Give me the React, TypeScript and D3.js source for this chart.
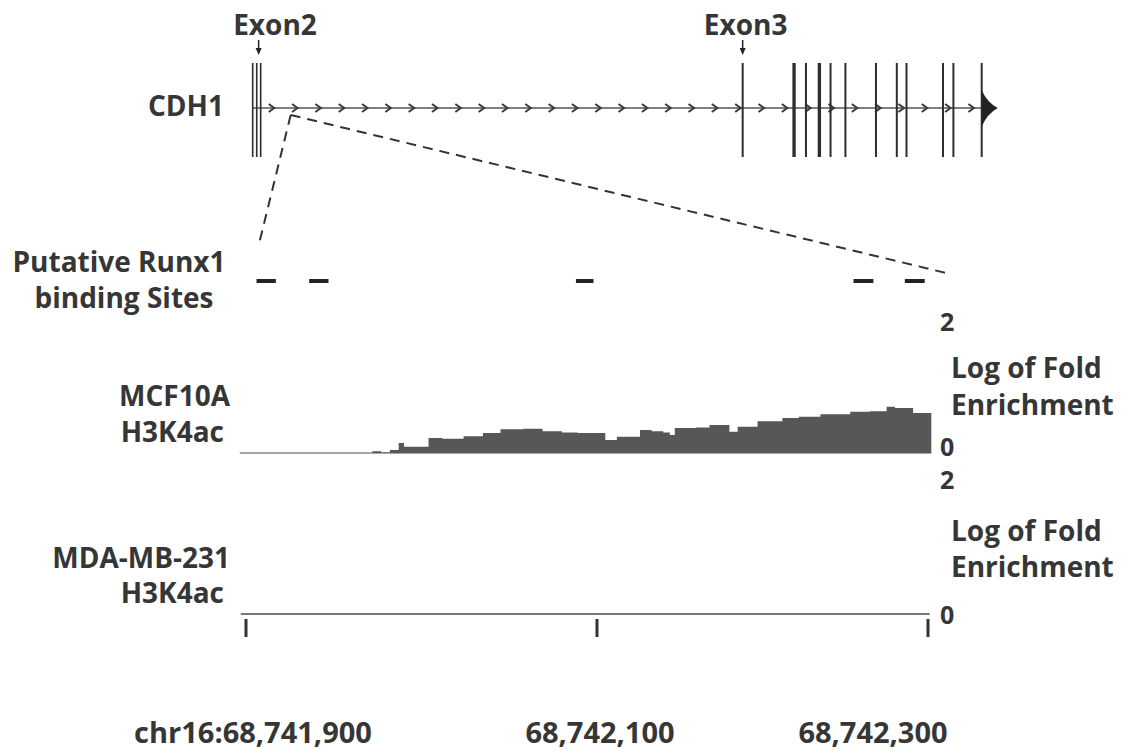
import React from "react";
import * as d3 from "d3";

// ---------- data ----------
// CDH1 gene model, positions in kb from the first drawn exon
const exonPos = [0, 0.54, 1.07, 65.8, 72.7, 74.3, 76.1, 77.6, 79.6, 83.7, 86.5, 87.8, 92.7, 94.1, 97.9];
const exonLen = [0.22, 0.22, 0.22, 0.27, 0.45, 0.27, 0.45, 0.27, 0.27, 0.27, 0.27, 0.27, 0.27, 0.27, 0.27];
const geneStart = 0;
const geneEnd = 97.9;
const exonLabels = ["Exon2", "Exon3"];
const exonLabelPos = [1.0, 65.8];
const zoomAnchorKb = 5.1;

// zoomed genomic window (chr16)
const tickPositions = [68741900, 68742100, 68742300];
const tickLabels = ["chr16:68,741,900", "68,742,100", "68,742,300"];
const zoomWindow = [68741907, 68742311];
const trackDomain = [68741897, 68742301];

// putative Runx1 binding sites [start, end]
const runxStart = [68741906, 68741936, 68742088, 68742255, 68742286];
const runxEnd = [68741917, 68741947, 68742098, 68742267, 68742298];

// MCF10A H3K4ac log fold enrichment (step signal)
const mcfPos = [68741972, 68741977, 68741982, 68741987, 68741990, 68742004, 68742012, 68742024, 68742035, 68742045,
  68742058, 68742069, 68742080, 68742089, 68742105, 68742112, 68742126, 68742133, 68742140, 68742144,
  68742147, 68742160, 68742168, 68742180, 68742185, 68742197, 68742212, 68742222, 68742235, 68742253,
  68742265, 68742275, 68742280, 68742291, 68742302];
const mcfVal = [0.03, 0.01, 0.05, 0.16, 0.10, 0.24, 0.23, 0.27, 0.32, 0.38,
  0.39, 0.35, 0.33, 0.32, 0.21, 0.26, 0.37, 0.35, 0.33, 0.29,
  0.40, 0.41, 0.45, 0.34, 0.42, 0.51, 0.56, 0.58, 0.62, 0.66,
  0.67, 0.74, 0.72, 0.64, 0.64];

// MDA-MB-231 H3K4ac (no enrichment)
const mdaPos = [68741897, 68742301];
const mdaVal = [0, 0];

const yTicks = [0, 2];
const yTickLabels = ["0", "2"];
const yAxisTitle = ["Log of Fold", "Enrichment"];

// ---------- layout ----------
const W = 1128, H = 755;
const FONT = "'Open Sans', 'DejaVu Sans', sans-serif";
const TXT = "#363636";

export default function App() {
  const gx = d3.scaleLinear().domain([geneStart, geneEnd]).range([252.7, 981.7]);
  const x = d3.scaleLinear().domain(tickPositions).range([246, 597, 928]);
  const geneY = 108;
  const exonTop = 63, exonBot = 157;

  const yMcf = d3.scaleLinear().domain([0, 2]).range([453, 328]);
  const yMda = d3.scaleLinear().domain([0, 2]).range([614, 479]);

  const mcfData = mcfPos.map((p, i) => ({ p, v: mcfVal[i] }));
  const mdaData = mdaPos.map((p, i) => ({ p, v: mdaVal[i] }));

  const mcfArea = d3.area<{ p: number; v: number }>()
    .x((d) => x(d.p)).y0(yMcf(0)).y1((d) => yMcf(d.v)).curve(d3.curveStepAfter);
  const mdaLine = d3.line<{ p: number; v: number }>()
    .x((d) => x(d.p)).y((d) => yMda(d.v));

  const chevrons = d3.range(2.76, 97.5, 3.132);
  const endX = gx(geneEnd);

  const tickLabelDx = [7, 3, -55];

  return (
    <svg width={W} height={H} style={{ position: "absolute", left: 0, top: 0, background: "#fff" }}
      fontFamily={FONT} fontWeight={700}>
      <rect width={W} height={H} fill="#fff" />

      {/* ----- gene track ----- */}
      <text x={224} y={116} textAnchor="end" fontSize={28} fill={TXT}>CDH1</text>
      <line x1={gx(geneStart)} x2={endX} y1={geneY} y2={geneY} stroke="#555" strokeWidth={1.6} />
      {chevrons.map((c, i) => (
        <polyline key={"c" + i}
          points={`${gx(c) - 4.5},${geneY - 4} ${gx(c) + 1},${geneY} ${gx(c) - 4.5},${geneY + 4}`}
          fill="none" stroke="#3a3a3a" strokeWidth={2} />
      ))}
      {exonPos.map((e, i) => (
        <line key={"e" + i} x1={gx(e)} x2={gx(e)} y1={exonTop} y2={exonBot}
          stroke="#2e2e2e" strokeWidth={Math.max(1.5, gx(exonLen[i]) - gx(0))} />
      ))}
      <path d={`M${endX},${geneY - 18} Q${endX + 5},${geneY - 6} ${endX + 16},${geneY} Q${endX + 5},${geneY + 6} ${endX},${geneY + 19} Z`}
        fill="#222" />
      {exonLabels.map((l, i) => {
        const ax = gx(exonLabelPos[i]) - (i === 0 ? 1.5 : 0);
        return (
          <g key={"l" + i}>
            <text x={i === 0 ? 275 : ax + 3} y={35} textAnchor="middle" fontSize={28} fill={TXT}>{l}</text>
            <line x1={ax} x2={ax} y1={40} y2={50} stroke="#222" strokeWidth={1.5} />
            <path d={`M${ax - 3},${48} L${ax + 3},${48} L${ax},${55} Z`} fill="#222" />
          </g>
        );
      })}

      {/* ----- zoom lines ----- */}
      <line x1={gx(zoomAnchorKb)} y1={115} x2={x(zoomWindow[0])} y2={247}
        stroke="#333" strokeWidth={2} strokeDasharray="10 7" />
      <line x1={gx(zoomAnchorKb)} y1={115} x2={x(zoomWindow[1])} y2={273}
        stroke="#333" strokeWidth={2} strokeDasharray="10 7" />

      {/* ----- Runx1 sites ----- */}
      <text x={119} y={272} textAnchor="middle" fontSize={28} fill={TXT}>Putative Runx1</text>
      <text x={124} y={308} textAnchor="middle" fontSize={28} fill={TXT}>binding Sites</text>
      {runxStart.map((s, i) => (
        <rect key={"r" + i} x={x(s)} width={x(runxEnd[i]) - x(s)} y={279} height={4} fill="#222" />
      ))}

      {/* ----- MCF10A track ----- */}
      <text x={230} y={406} textAnchor="end" fontSize={28} fill={TXT}>MCF10A</text>
      <text x={224} y={442} textAnchor="end" fontSize={28} fill={TXT}>H3K4ac</text>
      <line x1={x(trackDomain[0]) - 1} x2={x(mcfPos[mcfPos.length - 1])} y1={yMcf(0)} y2={yMcf(0)}
        stroke="#888" strokeWidth={1.6} />
      <path d={mcfArea(mcfData) || ""} fill="#575757" />
      {yTicks.map((t, i) => (
        <text key={"ym" + i} x={940} y={yMcf(t) - 7} dominantBaseline="central" fontSize={25} fill={TXT}>{yTickLabels[i]}</text>
      ))}
      <text x={951} y={378} fontSize={28} fill={TXT}>{yAxisTitle[0]}</text>
      <text x={951} y={415} fontSize={28} fill={TXT}>{yAxisTitle[1]}</text>

      {/* ----- MDA-MB-231 track ----- */}
      <text x={230} y={568} textAnchor="end" fontSize={28} fill={TXT}>MDA-MB-231</text>
      <text x={224} y={603} textAnchor="end" fontSize={28} fill={TXT}>H3K4ac</text>
      <path d={mdaLine(mdaData) || ""} fill="none" stroke="#777" strokeWidth={2} />
      {yTicks.map((t, i) => (
        <text key={"yd" + i} x={940} y={yMda(t)} dominantBaseline="central" fontSize={25} fill={TXT}>{yTickLabels[i]}</text>
      ))}
      <text x={951} y={541} fontSize={28} fill={TXT}>{yAxisTitle[0]}</text>
      <text x={951} y={577} fontSize={28} fill={TXT}>{yAxisTitle[1]}</text>

      {/* ----- genomic axis ----- */}
      {tickPositions.map((t, i) => (
        <g key={"t" + i}>
          <line x1={x(t)} x2={x(t)} y1={619} y2={637} stroke="#333" strokeWidth={3} />
          <text x={x(t) + tickLabelDx[i]} y={743} textAnchor="middle" fontSize={29} fill={TXT}>{tickLabels[i]}</text>
        </g>
      ))}
    </svg>
  );
}
